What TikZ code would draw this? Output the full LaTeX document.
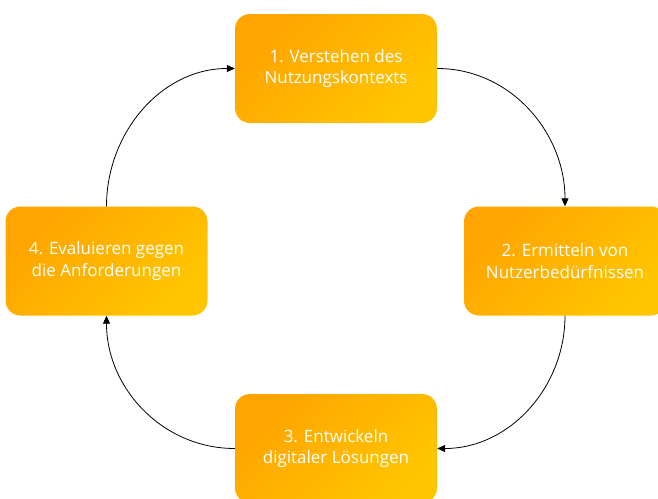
\documentclass[tikz,border=0pt]{standalone}
\usepackage{fontspec}
\setmainfont{Open Sans}
\usetikzlibrary{arrows.meta}
\definecolor{boxA}{RGB}{255,164,0}
\definecolor{boxB}{RGB}{255,198,0}
\tikzset{
  stagebox/.style={rectangle, rounded corners=15pt, minimum width=202pt, minimum height=109pt,
    left color=boxA, right color=boxB, shading angle=45, draw=none,
    text=white, align=center, font=\fontsize{17}{21.5}\selectfont, inner sep=0pt},
  cyc/.style={draw=black, line width=0.8pt, -{Triangle[length=8pt,width=7pt]}}
}
\begin{document}
\begin{tikzpicture}[x=1pt,y=-1pt]
\clip (0,0) rectangle (658,498);
\useasboundingbox (0,0) rectangle (658,498);
\node[stagebox] (s1) at (336,68.5) {1. Verstehen des\\Nutzungskontexts};
\node[stagebox] (s2) at (565,261) {2. Ermitteln von\\Nutzerbedürfnissen};
\node[stagebox] (s3) at (336,448.5) {3. Entwickeln\\digitaler Lösungen};
\node[stagebox] (s4) at (106.5,261) {4. Evaluieren gegen\\die Anforderungen};
\draw[cyc] (s1.east) to[out=0,in=90] (s2.north);
\draw[cyc] (s2.south) to[out=-90,in=0] (s3.east);
\draw[cyc] (s3.west) to[out=180,in=-90] (s4.south);
\draw[cyc] (s4.north) to[out=90,in=180] (s1.west);
\end{tikzpicture}
\end{document}
